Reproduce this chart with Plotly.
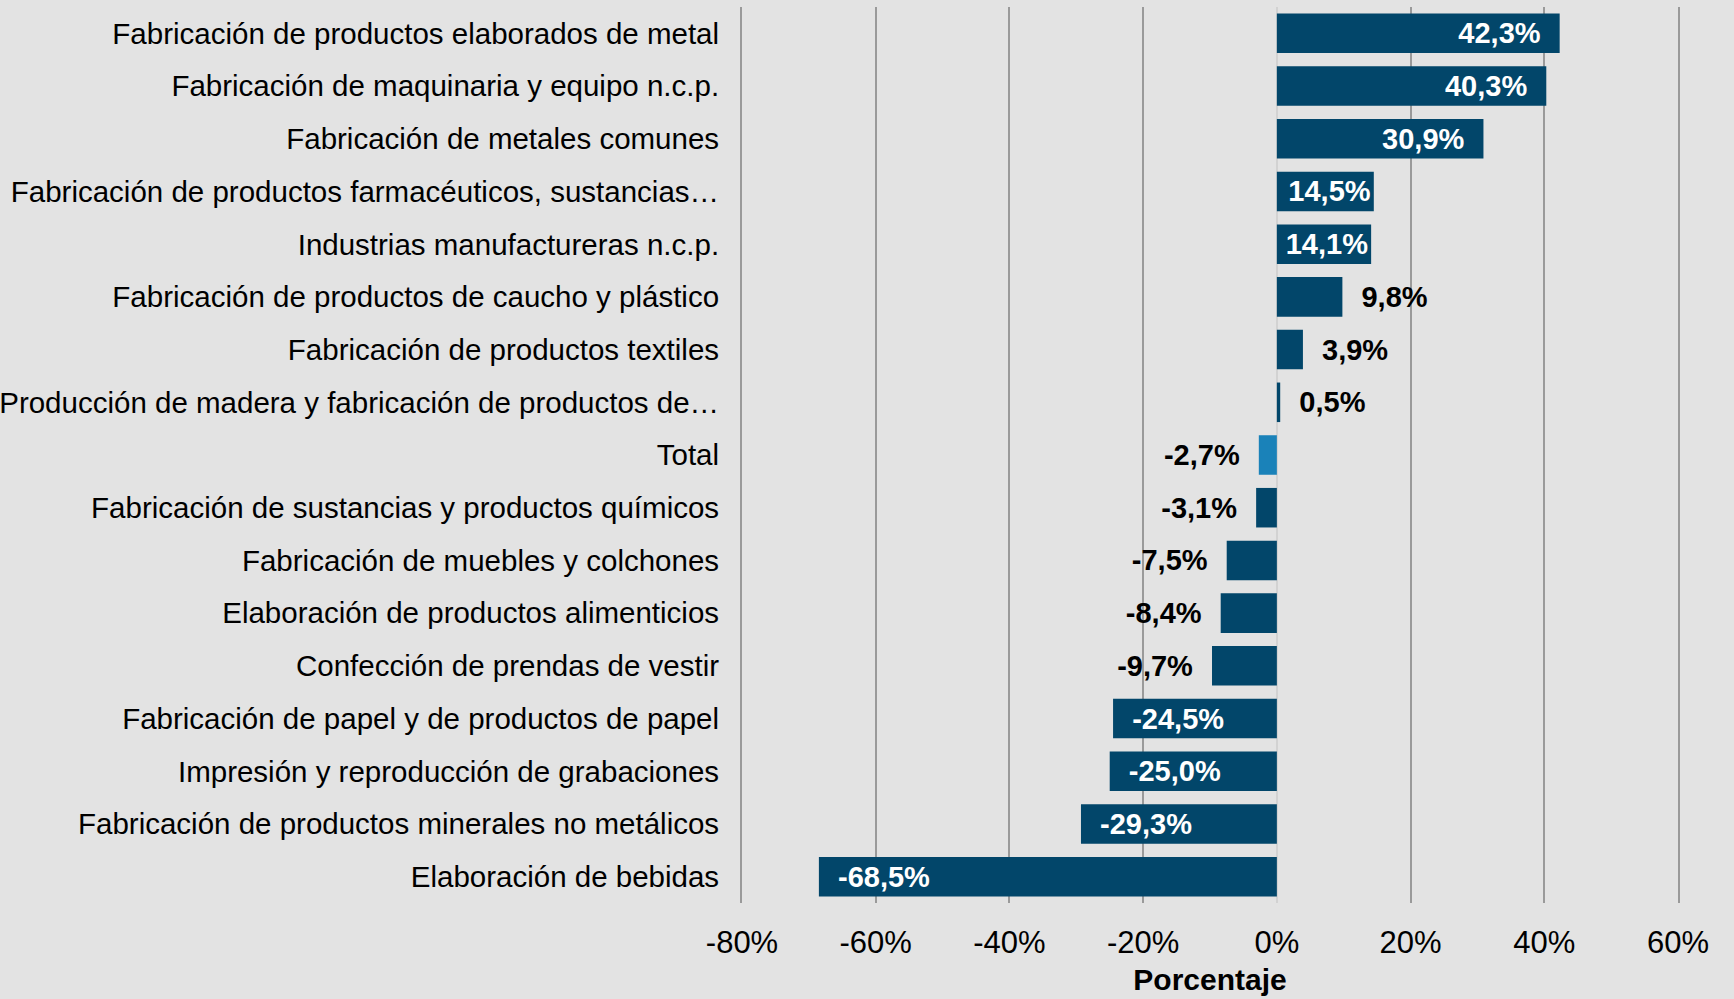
import plotly.graph_objects as go

categories = [
    "Fabricación de productos elaborados de metal",
    "Fabricación de maquinaria y equipo n.c.p.",
    "Fabricación de metales comunes",
    "Fabricación de productos farmacéuticos, sustancias…",
    "Industrias manufactureras n.c.p.",
    "Fabricación de productos de caucho y plástico",
    "Fabricación de productos textiles",
    "Producción de madera y fabricación de productos de…",
    "Total",
    "Fabricación de sustancias y productos químicos",
    "Fabricación de muebles y colchones",
    "Elaboración de productos alimenticios",
    "Confección de prendas de vestir",
    "Fabricación de papel y de productos de papel",
    "Impresión y reproducción de grabaciones",
    "Fabricación de productos minerales no metálicos",
    "Elaboración de bebidas",
]
values = [42.3, 40.3, 30.9, 14.5, 14.1, 9.8, 3.9, 0.5, -2.7, -3.1,
          -7.5, -8.4, -9.7, -24.5, -25.0, -29.3, -68.5]
tick_vals = [-80, -60, -40, -20, 0, 20, 40, 60]
tick_text = ["-80%", "-60%", "-40%", "-20%", "0%", "20%", "40%", "60%"]

DARK = "#02466a"
LIGHT = "#1a82b9"
FONT = "Liberation Sans, Arial, Helvetica, sans-serif"
PAD = "\u00a0\u00a0"

# big bars carry their label inside (white), small ones outside (black)
inside = [abs(v) >= 14 for v in values]
labels = []
for v, ins in zip(values, inside):
    s = f"{v:.1f}".replace(".", ",") + "%"
    # pad on the side facing the bar end so the text sits off the edge
    if ins and abs(v) < 20:
        pass  # narrow bars: label fills the bar
    elif (v >= 0) == ins:
        s = s + PAD
    else:
        s = PAD + s
    labels.append(s)
positions = ["inside" if i else "outside" for i in inside]
text_colors = ["white" if i else "black" for i in inside]
colors = [LIGHT if c == "Total" else DARK for c in categories]

label_font = dict(family=FONT, size=29, color=text_colors, weight="bold")

fig = go.Figure(go.Bar(
    x=values,
    y=categories,
    orientation="h",
    marker=dict(color=colors, line=dict(width=0)),
    text=labels,
    textposition=positions,
    insidetextanchor="end",
    textfont=label_font,
    outsidetextfont=label_font,
    insidetextfont=label_font,
    constraintext="none",
    cliponaxis=False,
))

fig.update_layout(
    width=1734,
    height=999,
    paper_bgcolor="#e3e3e3",
    plot_bgcolor="#e3e3e3",
    font=dict(family=FONT, size=30, color="black"),
    bargap=0.25,
    showlegend=False,
    margin=dict(l=742, r=56, t=7, b=96, autoexpand=False),
    xaxis=dict(
        range=[-80, 60],
        tickvals=tick_vals,
        ticktext=tick_text,
        showgrid=True,
        gridcolor="#9a9a9a",
        gridwidth=2,
        zeroline=True,
        zerolinecolor="#d2d2d2",
        zerolinewidth=2,
        ticks="",
        ticklabelstandoff=18,
        tickfont=dict(size=31),
        title=dict(text="<b>Porcentaje</b>", font=dict(size=30), standoff=9),
        fixedrange=True,
    ),
    yaxis=dict(
        autorange="reversed",
        ticks="",
        ticklabelstandoff=15,
        tickfont=dict(size=29.5),
        showgrid=False,
        showline=True,
        mirror=True,
        linecolor="#9a9a9a",
        linewidth=2,
        fixedrange=True,
    ),
)

fig.write_html(
    "out.html",
    config={"displayModeBar": False},
    post_script="document.body.style.margin='0';",
)
